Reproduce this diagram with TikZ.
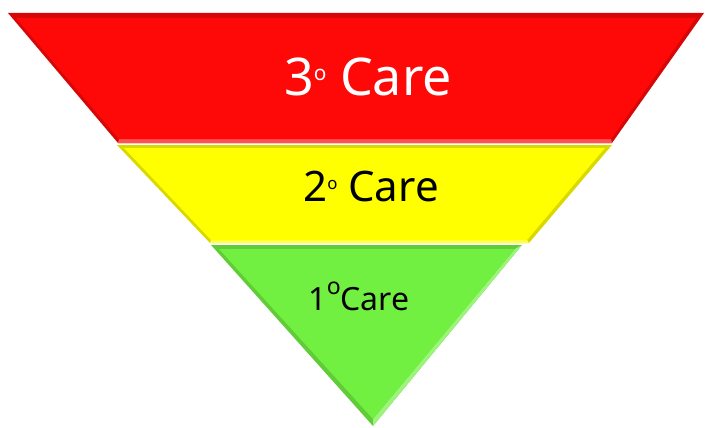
\documentclass[tikz,border=0pt]{standalone}
\usepackage{fontspec}
\setmainfont{Noto Sans}
\definecolor{careRed}{RGB}{254,8,8}
\definecolor{careYellow}{RGB}{255,255,0}
\definecolor{careGreen}{RGB}{114,240,66}
\newcommand{\ringdeg}{\raisebox{0.29em}{\scalebox{0.4}{o}}}
\newcommand{\updeg}{\raisebox{0.5em}{\scalebox{0.72}{o}}}
\tikzset{
  lip/.style={fill=#1!85!black},
  glow/.style={fill=#1!70!white},
  face/.style={fill=#1},
  tag/.style={inner sep=0pt, anchor=center}
}
\begin{document}
\begin{tikzpicture}[x=1pt,y=-1pt]
    \useasboundingbox (0,0) rectangle (705,428);
    % 3rd level
    \fill[lip=careRed] (8,13) -- (704,13) -- (612,143) -- (118,143) -- cycle;
    \fill[glow=careRed] (118,143) -- (612,143) -- (611,139) -- (119,139) -- cycle;
    \fill[face=careRed] (16,18) -- (696,18) -- (611,139) -- (119,139) -- cycle;
    % 2nd level
    \fill[lip=careYellow] (117,145) -- (612,145) -- (529,243) -- (210,243) -- cycle;
    \fill[glow=careYellow] (210,243) -- (529,243) -- (527,240) -- (211,240) -- cycle;
    \fill[face=careYellow] (124,148) -- (605,148) -- (527,240) -- (211,240) -- cycle;
    % 1st level
    \fill[lip=careGreen] (211,245) -- (522,245) -- (373,426) -- cycle;
    \fill[glow=careGreen] (522,245) -- (373,426) -- (373,419) -- (515,249) -- cycle;
    \fill[face=careGreen] (219,249) -- (515,249) -- (373,419) -- cycle;
    \node[tag, white, font=\fontsize{52}{60}\selectfont] (tertiary) at (368,77) {3\ringdeg\ Care};
    \node[tag, font=\fontsize{42}{50}\selectfont] (secondary) at (371,187) {2\ringdeg\ Care};
    \node[tag, font=\fontsize{32}{40}\selectfont] (primary) at (359,296) {1\updeg Care};
\end{tikzpicture}
\end{document}
